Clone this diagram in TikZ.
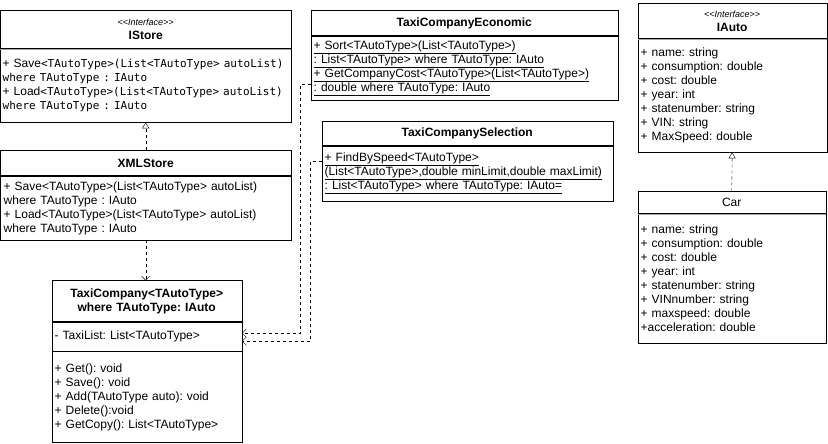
\documentclass[tikz,border=0pt]{standalone}
\usepackage{fontspec}
\setmainfont{Liberation Sans}
\setmonofont{DejaVu Sans Mono}
\usetikzlibrary{positioning,arrows.meta}

\newcommand{\umlsize}{\fontsize{12bp}{14bp}\selectfont\frenchspacing}
\newcommand{\monosize}{\fontsize{11bp}{14bp}\selectfont\ttfamily}
\newcommand{\stereo}[1]{{\fontsize{9bp}{11bp}\selectfont\mdseries\itshape <{}<#1>{}>}}
\newcommand{\ul}[1]{\underline{#1}}

\begin{document}
\begin{tikzpicture}[x=1bp,y=-1bp,
  box/.style={draw, anchor=north west, inner xsep=3bp, inner ysep=0pt, font=\umlsize},
  head/.style={box, align=center, font=\umlsize\bfseries},
  body/.style={box, align=left},
  dep/.style={dash pattern=on 3bp off 3bp, -{Straight Barb[length=4bp,width=8bp]}},
  real/.style={dash pattern=on 3bp off 3bp, -{Triangle[open,length=6bp,width=7bp]}},
  sep/.style={draw=black!35}]
\useasboundingbox (0,0) rectangle (828,444);

% IStore
\node[head, text width=284bp, minimum height=38bp] (istoreT) at (0.5,10.5) {\stereo{Interface}\\IStore};
\node[body, inner xsep=2bp, text width=286bp, minimum height=73bp, below=0pt of istoreT] (istoreB)
  {+ Save{\monosize<TAutoType>(List<TAutoType> autoList)}\\
   {\monosize where TAutoType : IAuto}\\
   + Load{\monosize<TAutoType>(List<TAutoType> autoList)}\\
   {\monosize where TAutoType : IAuto}};
\draw[sep] (istoreT.south west) -- (istoreT.south east);

% XMLStore
\node[head, text width=284bp, minimum height=25bp] (xmlT) at (0.5,150.5) {XMLStore};
\node[body, text width=284bp, minimum height=64bp, below=0pt of xmlT] (xmlB)
  {+ Save<TAutoType>(List<TAutoType> autoList)\\
   where TAutoType : IAuto\\
   + Load<TAutoType>(List<TAutoType> autoList)\\
   where TAutoType : IAuto};

% TaxiCompany
\node[head, text width=184bp, minimum height=41bp] (tcT) at (51.5,280.5) {TaxiCompany<TAutoType>\\where TAutoType: IAuto};
\node[body, text width=184bp, minimum height=29bp, below=0pt of tcT] (tcF) {- TaxiList: List<TAutoType>};
\node[body, text width=184bp, minimum height=91bp, below=0pt of tcF] (tcM)
  {+ Get(): void\\
   + Save(): void\\
   + Add(TAutoType auto): void\\
   + Delete():void\\
   + GetCopy(): List<TAutoType>};

% TaxiCompanyEconomic
\node[head, text width=301bp, minimum height=25bp] (ecoT) at (310.5,10.5) {TaxiCompanyEconomic};
\node[body, text width=301bp, minimum height=64bp, below=0pt of ecoT] (ecoB)
  {\ul{+ Sort<TAutoType>(List<TAutoType>)}\\
   \ul{: List<TAutoType> where TAutoType: IAuto}\\
   \ul{+ GetCompanyCost<TAutoType>(List<TAutoType>)}\\
   \ul{: double where TAutoType: IAuto}};

% TaxiCompanySelection
\node[head, text width=285bp, minimum height=24bp] (selT) at (321.5,121.5) {TaxiCompanySelection};
\node[body, text width=285bp, minimum height=55bp, below=0pt of selT] (selB)
  {\ul{+ FindBySpeed<TAutoType>}\\
   \ul{(List<TAutoType>,double minLimit,double maxLimit)}\\
   \ul{: List<TAutoType> where TAutoType: IAuto=}};

% IAuto
\node[head, text width=183bp, minimum height=35bp] (iautoT) at (637.5,3.5) {\stereo{Interface}\\IAuto};
\node[body, text width=183bp, minimum height=113bp, below=0pt of iautoT] (iautoB)
  {+ name: string\\
   + consumption: double\\
   + cost: double\\
   + year: int\\
   + statenumber: string\\
   + VIN: string\\
   + MaxSpeed: double};
\draw[sep] (iautoT.south west) -- (iautoT.south east);

% Car
\node[box, align=center, text width=182bp, minimum height=22bp] (carT) at (637.5,191.5) {Car};
\node[body, text width=182bp, minimum height=129bp, below=0pt of carT] (carB)
  {+ name: string\\
   + consumption: double\\
   + cost: double\\
   + year: int\\
   + statenumber: string\\
   + VINnumber: string\\
   + maxspeed: double\\
   +acceleration: double};
\draw[sep] (carT.south west) -- (carT.south east);

% connectors
\draw[real] (xmlT.north) -- (istoreB.south);
\draw[dep] (xmlB.south) -- (xmlB.south |- tcT.north);
\draw[dep] ([yshift=-16bp]ecoB.west) -- ++(-10,0) |- ([yshift=3.5bp]tcF.east);
\draw[dep] ([yshift=12.5bp]selB.west) -- ++(-11,0) |- ([yshift=-4.5bp]tcF.east);
\draw[real] (carT.north) -- (iautoB.south);
\end{tikzpicture}
\end{document}
